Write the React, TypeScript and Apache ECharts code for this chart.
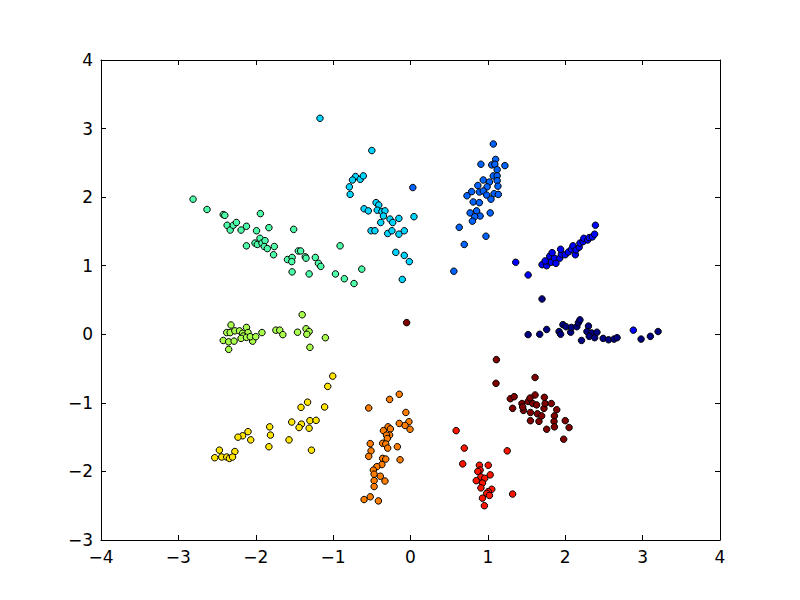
import React, { useEffect, useRef } from "react";
import * as echarts from "echarts";

const xTicks = [-4, -3, -2, -1, 0, 1, 2, 3, 4];
const yTicks = [-3, -2, -1, 0, 1, 2, 3, 4];

const classColors = [
  "#000080", "#0000ff", "#0063ff", "#00d4ff", "#4effaa",
  "#a9ff4d", "#ffe500", "#ff7d00", "#ff1400", "#800000",
];

const cluster0: [number, number][] = [
  [1.70, 0.515], [1.52, -0.005], [1.67, 0.0], [1.76, 0.07], [1.92, 0.04], [1.94, 0.0],
  [1.97, 0.14], [2.01, 0.11], [2.07, 0.03], [2.08, 0.10], [2.15, 0.11], [2.17, 0.17],
  [2.19, 0.21], [2.21, -0.09], [2.30, 0.12], [2.28, 0.04], [2.34, 0.02], [2.31, -0.03],
  [2.38, -0.05], [2.41, 0.03], [2.49, -0.06], [2.56, -0.08], [2.63, -0.07], [2.67, -0.05],
  [2.98, -0.07], [3.10, -0.03], [3.20, 0.04],
];
const cluster1: [number, number][] = [
  [1.36, 1.05], [1.52, 0.865], [1.70, 1.015], [1.76, 1.0], [1.78, 1.07], [1.80, 1.14],
  [1.82, 1.05], [1.86, 1.11], [1.88, 1.035], [1.93, 1.11], [1.95, 1.17], [1.94, 1.24],
  [2.00, 1.16], [2.04, 1.20], [2.08, 1.24], [2.10, 1.29], [2.13, 1.16], [2.14, 1.23],
  [2.18, 1.27], [2.19, 1.33], [2.23, 1.35], [2.24, 1.40], [2.29, 1.375], [2.31, 1.41],
  [2.35, 1.42], [2.38, 1.46], [2.39, 1.59], [1.83, 1.19], [1.74, 1.07], [2.88, 0.06],
];
const cluster2: [number, number][] = [
  [1.07, 2.775], [0.91, 2.48], [1.10, 2.55], [1.05, 2.47], [1.09, 2.48], [1.22, 2.46],
  [1.12, 2.40], [1.07, 2.31], [1.12, 2.31], [1.12, 2.24], [0.94, 2.25], [1.02, 2.22],
  [0.87, 2.17], [0.99, 2.15], [1.13, 2.16], [0.79, 2.08], [0.89, 2.075], [0.94, 2.09],
  [0.985, 2.03], [0.73, 2.02], [1.08, 2.05], [1.135, 2.04], [1.04, 1.97], [0.81, 1.93],
  [0.89, 1.92], [0.855, 1.80], [0.77, 1.77], [0.90, 1.725], [0.83, 1.715], [0.80, 1.65],
  [1.03, 1.77], [0.63, 1.56], [0.975, 1.43], [0.695, 1.31], [0.56, 0.92], [0.03, 2.14],
];
const cluster3: [number, number][] = [
  [-1.17, 3.15], [-0.50, 2.68], [-0.71, 2.30], [-0.65, 2.26], [-0.61, 2.31], [-0.75, 2.25],
  [-0.79, 2.15], [-0.78, 2.04], [-0.60, 1.83], [-0.545, 1.80], [-0.445, 1.92], [-0.41, 1.885],
  [-0.43, 1.81], [-0.37, 1.79], [-0.33, 1.80], [-0.35, 1.725], [-0.385, 1.63], [-0.265, 1.68],
  [-0.23, 1.63], [-0.15, 1.69], [0.045, 1.715], [-0.51, 1.51], [-0.46, 1.51], [-0.295, 1.47],
  [-0.24, 1.51], [-0.15, 1.46], [-0.08, 1.51], [-0.19, 1.195], [-0.08, 1.15], [-0.015, 1.06],
  [-0.106, 0.80],
];
const cluster4: [number, number][] = [
  [-2.81, 1.97], [-2.63, 1.82], [-2.42, 1.745], [-2.40, 1.735], [-2.37, 1.59], [-2.33, 1.52],
  [-2.29, 1.59], [-2.25, 1.63], [-2.19, 1.52], [-2.12, 1.575], [-1.94, 1.76], [-1.99, 1.51],
  [-1.83, 1.555], [-2.12, 1.29], [-2.01, 1.33], [-1.98, 1.31], [-1.945, 1.40], [-1.92, 1.33],
  [-1.88, 1.365], [-1.89, 1.28], [-1.85, 1.25], [-1.76, 1.28], [-1.77, 1.16], [-1.51, 1.53],
  [-1.59, 1.09], [-1.53, 1.12], [-1.535, 1.06], [-1.45, 1.215], [-1.42, 1.215], [-1.36, 1.13],
  [-1.35, 1.11], [-1.23, 1.12], [-1.19, 1.035], [-1.16, 0.99], [-1.53, 0.91], [-1.31, 0.88],
  [-0.97, 0.88], [-0.855, 0.81], [-0.73, 0.74], [-0.91, 1.29], [-0.63, 0.95],
];
const cluster5: [number, number][] = [
  [-2.32, 0.135], [-2.375, 0.025], [-2.33, 0.025], [-2.27, 0.05], [-2.21, 0.05], [-2.17, 0.015],
  [-2.12, 0.10], [-2.10, 0.025], [-2.16, -0.025], [-2.42, -0.09], [-2.35, -0.11], [-2.28, -0.10],
  [-2.35, -0.22], [-2.19, -0.06], [-2.12, -0.045], [-2.04, -0.10], [-2.07, -0.035], [-2.00, -0.035],
  [-1.92, 0.025], [-1.74, 0.06], [-1.69, 0.06], [-1.65, -0.005], [-1.46, 0.03], [-1.40, 0.285],
  [-1.35, 0.08], [-1.31, 0.04], [-1.34, 0.0], [-1.30, -0.19], [-1.10, -0.05],
];
const cluster6: [number, number][] = [
  [-1.005, -0.61], [-1.07, -0.76], [-1.33, -0.99], [-1.415, -1.065], [-1.11, -1.06], [-1.535, -1.28],
  [-1.41, -1.31], [-1.44, -1.36], [-1.31, -1.37], [-1.30, -1.26], [-1.22, -1.255], [-1.57, -1.54],
  [-1.28, -1.69], [-1.82, -1.35], [-1.81, -1.47], [-1.83, -1.64], [-2.10, -1.42], [-2.065, -1.54],
  [-2.17, -1.48], [-2.23, -1.50], [-2.47, -1.69], [-2.27, -1.71], [-2.53, -1.80], [-2.44, -1.79],
  [-2.375, -1.79], [-2.34, -1.81], [-2.30, -1.79],
];
const cluster7: [number, number][] = [
  [-0.145, -0.875], [-0.27, -0.95], [-0.54, -1.075], [-0.06, -1.14], [-0.02, -1.275], [-0.145, -1.30],
  [-0.07, -1.33], [-0.006, -1.385], [-0.29, -1.35], [-0.35, -1.405], [-0.26, -1.38], [-0.27, -1.47],
  [-0.31, -1.47], [-0.30, -1.52], [-0.36, -1.59], [-0.32, -1.60], [-0.52, -1.595], [-0.51, -1.70],
  [-0.54, -1.78], [-0.295, -1.66], [-0.17, -1.64], [-0.135, -1.83], [-0.36, -1.81], [-0.32, -1.82],
  [-0.37, -1.90], [-0.435, -1.93], [-0.48, -1.98], [-0.47, -2.04], [-0.39, -2.07], [-0.33, -2.14],
  [-0.47, -2.135], [-0.47, -2.22], [-0.60, -2.41], [-0.52, -2.37], [-0.415, -2.43],
];
const cluster8: [number, number][] = [
  [0.59, -1.405], [0.695, -1.66], [0.675, -1.89], [1.25, -1.70], [0.89, -1.91], [1.005, -1.91],
  [0.90, -1.98], [0.87, -2.00], [1.03, -2.05], [0.91, -2.08], [0.96, -2.10], [0.85, -2.135],
  [0.93, -2.17], [0.91, -2.24], [1.05, -2.26], [1.005, -2.295], [0.985, -2.32], [1.02, -2.35],
  [0.93, -2.39], [0.955, -2.50], [1.32, -2.33],
];
const cluster9: [number, number][] = [
  [1.11, -0.37], [1.105, -0.715], [1.61, -0.63], [1.29, -0.94], [1.34, -0.91], [1.32, -1.08],
  [1.44, -1.01], [1.46, -1.11], [1.45, -1.06], [1.52, -0.98], [1.545, -0.93], [1.61, -0.885],
  [1.58, -1.01], [1.63, -1.03], [1.55, -1.14], [1.64, -1.16], [1.55, -1.26], [1.66, -1.27],
  [1.695, -1.19], [1.725, -1.08], [1.74, -1.01], [1.73, -0.92], [1.82, -1.01], [1.89, -1.10],
  [1.86, -1.19], [1.855, -1.27], [1.86, -1.35], [1.76, -1.385], [2.00, -1.26], [2.05, -1.36],
  [1.98, -1.53], [-0.05, 0.17],
];

const clusters = [cluster0, cluster1, cluster2, cluster3, cluster4, cluster5, cluster6, cluster7, cluster8, cluster9];

const fmt = (v: number) => String(v).replace("-", "\u2212");

export default function App() {
  const ref = useRef<HTMLDivElement>(null);
  useEffect(() => {
    if (!ref.current) return;
    const chart = echarts.init(ref.current, null, { renderer: "svg" });
    const labelStyle = { color: "#000", fontSize: 17, fontFamily: "DejaVu Sans", formatter: fmt };
    const common = {
      type: "value" as const,
      interval: 1,
      axisLine: { show: true, onZero: false, lineStyle: { color: "#000", width: 1 } },
      axisTick: { show: true, inside: true, length: 5, lineStyle: { color: "#000" } },
      splitLine: { show: false },
    };
    chart.setOption({
      animation: false,
      backgroundColor: "#fff",
      grid: { left: 101, right: 80, top: 60, bottom: 60, containLabel: false },
      xAxis: [
        { ...common, min: xTicks[0], max: xTicks[xTicks.length - 1], position: "bottom",
          axisLabel: { ...labelStyle, margin: 8 } },
        { ...common, min: xTicks[0], max: xTicks[xTicks.length - 1], position: "top",
          axisLabel: { show: false } },
      ],
      yAxis: [
        { ...common, min: yTicks[0], max: yTicks[yTicks.length - 1], position: "left",
          axisLabel: { ...labelStyle, margin: 8 } },
        { ...common, min: yTicks[0], max: yTicks[yTicks.length - 1], position: "right",
          axisLabel: { show: false } },
      ],
      series: clusters.map((pts, i) => ({
        type: "scatter",
        xAxisIndex: 0,
        yAxisIndex: 0,
        data: pts,
        symbol: "circle",
        symbolSize: 6.5,
        itemStyle: { color: classColors[i], borderColor: "#000", borderWidth: 1, opacity: 1 },
        emphasis: { disabled: true },
      })),
    });
    return () => chart.dispose();
  }, []);
  return <div ref={ref} style={{ width: 800, height: 600, position: "absolute", left: 0, top: 0 }} />;
}
